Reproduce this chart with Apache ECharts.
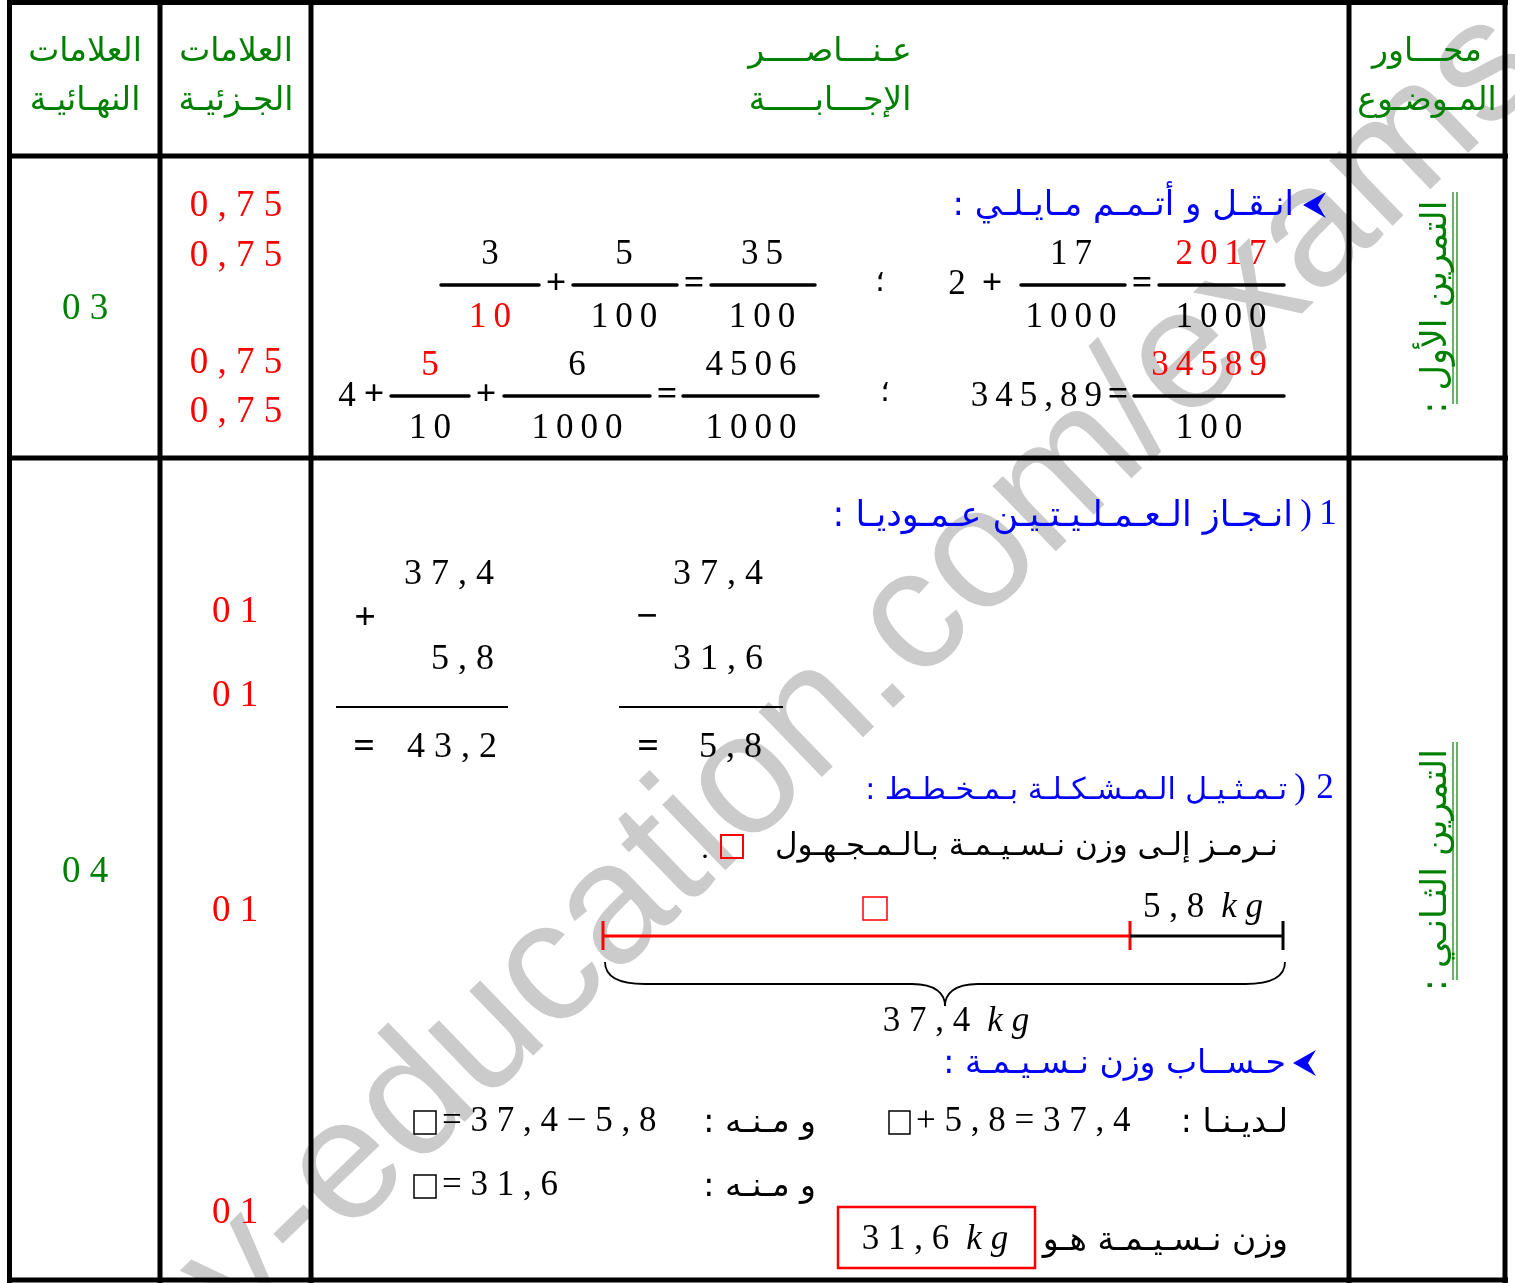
<!DOCTYPE html>
<html>
<head>
<meta charset="utf-8">
<title>سلم التنقيط</title>
<script src="https://cdn.jsdelivr.net/npm/echarts@6/dist/echarts.min.js"></script>
<style>
  html, body { margin: 0; padding: 0; background: #fff; }
  #main { width: 1515px; height: 1283px; }
</style>
</head>
<body>
<div id="main"></div>
<script>
var NUM = "'Liberation Serif', 'Times New Roman', serif";
var AR = "'DejaVu Sans', sans-serif";
var RLM = '\u200F';
var TH = '\u2009';
var GREEN = '#008000', RED = '#ff0000', BLUE = '#0000ff';

// محتوى الجدول
var headerTop = ['العلامات', 'العلامات', 'عـنـــاصــــر', 'محـــاور'];
var headerBottom = ['النهـائيـة', 'الجـزئيـة', 'الإجـــابـــــة', 'المـوضـوع'];
var finalMarks = ['0 3', '0 4'];
var partialMarks1 = ['0 , 7 5', '0 , 7 5', '0 , 7 5', '0 , 7 5'];
var partialMarks2 = ['0 1', '0 1', '0 1', '0 1'];
var exerciseNames = ['التمرين الأول :', 'التمرين الثـانـي :'];

// الكسور: [بسط, مقام, بسط بالأحمر, مقام بالأحمر]
var fractionsA = [['3', '10', 0, 1], ['5', '100', 0, 0], ['35', '100', 0, 0]];
var fractionsB = [['17', '1000', 0, 0], ['2017', '1000', 1, 0]];
var fractionsC = [['5', '10', 1, 0], ['6', '1000', 0, 0], ['4506', '1000', 0, 0]];
var fractionsD = [['34589', '100', 1, 0]];
var decimalD = '345,89';

// العمليات العمودية
var addition = ['3 7 , 4', '5 , 8', '4 3 , 2'];
var subtraction = ['3 7 , 4', '3 1 , 6', '5 , 8'];
var weights = ['5 , 8', '3 7 , 4', '3 1 , 6'];

var texts2 = {
    q1: 'انـقـل و أتـمـم مـايـلـي :',
    q21: 'انـجـاز الـعـمـلـيـتـيـن عـمـوديـا :',
    q22: 'تـمـثـيـل الـمـشـكـلـة بـمـخـطـط :',
    symbol: 'نـرمـز إلـى وزن نـسـيـمـة بـالـمـجـهـول',
    calc: 'حـســاب وزن نـسـيـمـة :',
    have: 'لـديـنـا :',
    so: 'و مـنـه :',
    answer: 'وزن نـسـيـمـة هـو'
};

var colX = [9.5, 160, 311, 1349, 1505];
var rowY = [2.5, 156, 458, 1280];

var els = [];

function spaced(s) { return s.split('').join(TH); }

function txt(x, y, s, o) {
    o = o || {};
    var font = (o.italic ? 'italic ' : '') + (o.bold ? 'bold ' : '') + (o.size || 34) + 'px ' + (o.family || NUM);
    els.push({
        type: 'text', x: x, y: y, rotation: o.rot || 0, z: o.z || 10,
        style: {
            text: s, fill: o.color || '#000', font: font,
            align: o.align || 'center', textAlign: o.align || 'center',
            verticalAlign: 'middle', textVerticalAlign: 'middle',
            rich: o.rich
        }
    });
}
function ar(x, y, s, o) {
    o = o || {};
    o.family = AR;
    o.size = o.size || 32;
    txt(x, y, s + RLM, o);
}
function line(x1, y1, x2, y2, color, w, cap) {
    els.push({
        type: 'line', z: 5,
        shape: { x1: x1, y1: y1, x2: x2, y2: y2 },
        style: { stroke: color || '#000', lineWidth: w || 2, lineCap: cap || 'butt' }
    });
}
function box(x, y, w, h, color, lw) {
    els.push({
        type: 'rect', z: 6,
        shape: { x: x, y: y, width: w, height: h },
        style: { fill: 'none', stroke: color || '#000', lineWidth: lw || 1.5 }
    });
}
function arrow(x, y) {
    els.push({
        type: 'polygon', z: 6,
        shape: { points: [[x, y], [x + 23, y - 13], [x + 15, y], [x + 23, y + 13]] },
        style: { fill: BLUE }
    });
}
function curve(x1, y1, c1x, c1y, c2x, c2y, x2, y2) {
    els.push({
        type: 'bezierCurve', z: 5,
        shape: { x1: x1, y1: y1, x2: x2, y2: y2, cpx1: c1x, cpy1: c1y, cpx2: c2x, cpy2: c2y },
        style: { stroke: '#000', lineWidth: 1.8, fill: 'none' }
    });
}
function frac(f, cx, bx1, bx2, by) {
    line(bx1, by, bx2, by, '#000', 3.5, 'round');
    txt(cx, by - 30, spaced(f[0]), { color: f[2] ? RED : '#000', size: 35 });
    txt(cx, by + 33, spaced(f[1]), { color: f[3] ? RED : '#000', size: 35 });
}

// العلامة المائية
els.push({
    type: 'text', x: 10, y: 1495, rotation: 44 * Math.PI / 180, z: 0,
    style: {
        text: 'ency-education.com/exams', fill: '#cbcbcb',
        font: "172px 'Liberation Sans', Arial, sans-serif",
        align: 'left', textAlign: 'left', verticalAlign: 'middle', textVerticalAlign: 'middle'
    }
});

// خطوط الجدول
colX.forEach(function (x) { line(x, 0, x, 1283, '#000', 5); });
rowY.forEach(function (y) { line(7, y, 1508, y, '#000', 5); });

// رأس الجدول
var headCx = [85, 236, 830, 1427];
headerTop.forEach(function (s, i) {
    ar(headCx[i], 52, s, { color: GREEN, size: 33 });
    ar(headCx[i], 101, headerBottom[i], { color: GREEN, size: 33 });
});

// العلامات
txt(85, 309, finalMarks[0], { color: GREEN, size: 37 });
txt(85, 872, finalMarks[1], { color: GREEN, size: 37 });
var pm1Y = [206, 256, 363, 412];
partialMarks1.forEach(function (s, i) { txt(236, pm1Y[i], s, { color: RED, size: 37 }); });
var pm2Y = [612, 696, 911, 1213];
partialMarks2.forEach(function (s, i) { txt(235, pm2Y[i], s, { color: RED, size: 37 }); });

// محاور الموضوع (نص عمودي)
ar(1437, 307, exerciseNames[0], { color: GREEN, rot: Math.PI / 2, size: 35 });
line(1453, 192, 1453, 404, GREEN, 1.2);
line(1457, 192, 1457, 404, GREEN, 1.2);
ar(1437, 870, exerciseNames[1], { color: GREEN, rot: Math.PI / 2, size: 35 });
line(1453, 742, 1453, 980, GREEN, 1.2);
line(1457, 742, 1457, 980, GREEN, 1.2);

// التمرين الأول
arrow(1303, 205);
ar(1294, 206, texts2.q1, { color: BLUE, align: 'right', size: 34 });

frac(fractionsA[0], 490, 441, 539, 285);
txt(556, 285, '+', { bold: true, size: 36 });
frac(fractionsA[1], 624, 573, 677, 285);
txt(694, 285, '=', { bold: true, size: 36 });
frac(fractionsA[2], 762, 711, 815, 285);
txt(880, 283, '؛', { family: AR, size: 30 });

txt(957, 285, '2', { size: 35 });
txt(992, 285, '+', { bold: true, size: 36 });
frac(fractionsB[0], 1071, 1021, 1125, 285);
txt(1142, 285, '=', { bold: true, size: 36 });
frac(fractionsB[1], 1221, 1159, 1284, 285);

txt(347, 397, '4', { size: 35 });
txt(374, 396, '+', { bold: true, size: 36 });
frac(fractionsC[0], 430, 391, 469, 396);
txt(486, 396, '+', { bold: true, size: 36 });
frac(fractionsC[1], 577, 504, 650, 396);
txt(667, 396, '=', { bold: true, size: 36 });
frac(fractionsC[2], 751, 683, 818, 396);
txt(885, 393, '؛', { family: AR, size: 30 });

txt(1102, 397, spaced(decimalD), { align: 'right', size: 35 });
txt(1118, 396, '=', { bold: true, size: 36 });
frac(fractionsD[0], 1209, 1134, 1284, 396);

// التمرين الثاني - 1
txt(1328, 515, '1', { color: BLUE, size: 35 });
txt(1306, 515, ')', { color: BLUE, size: 35 });
ar(1293, 517, texts2.q21, { color: BLUE, align: 'right', size: 35 });

txt(494, 575, addition[0], { align: 'right', size: 36 });
txt(365, 619, '+', { size: 38, bold: true });
txt(494, 660, addition[1], { align: 'right', size: 36 });
line(336, 707, 508, 707, '#000', 2);
txt(364, 748, '=', { size: 38, bold: true });
txt(497, 748, addition[2], { align: 'right', size: 36 });

txt(763, 575, subtraction[0], { align: 'right', size: 36 });
txt(647, 618, '−', { size: 38, bold: true });
txt(763, 660, subtraction[1], { align: 'right', size: 36 });
line(619, 707, 783, 707, '#000', 2);
txt(648, 748, '=', { size: 38, bold: true });
txt(762, 748, subtraction[2], { align: 'right', size: 36 });

// التمرين الثاني - 2
txt(1325, 789, '2', { color: BLUE, size: 35 });
txt(1300, 789, ')', { color: BLUE, size: 35 });
ar(1287, 791, texts2.q22, { color: BLUE, align: 'right', size: 30 });
ar(1278, 847, texts2.symbol, { align: 'right', size: 31 });
box(721, 835, 22, 23, RED, 2);
txt(705, 850, '.', { size: 30 });

// المخطط
line(603, 936, 1130, 936, RED, 3);
line(603, 921, 603, 950, RED, 3);
line(1130, 921, 1130, 950, RED, 3);
line(1130, 936, 1283, 936, '#000', 3);
line(1283, 921, 1283, 950, '#000', 3);
box(863, 897, 24, 23, RED, 1.5);
var kgRich = {
    n: { fontFamily: NUM, fontSize: 35, fill: '#000' },
    u: { fontFamily: NUM, fontSize: 35, fontStyle: 'italic', fill: '#000' }
};
txt(1143, 908, '{n|' + weights[0] + '}  {u|k g}', { align: 'left', rich: kgRich });
curve(605, 962, 605, 978, 620, 984, 645, 984);
line(645, 984, 912, 984, '#000', 1.8);
curve(912, 984, 936, 984, 945, 994, 945, 1006);
curve(945, 1006, 945, 994, 954, 984, 978, 984);
line(978, 984, 1245, 984, '#000', 1.8);
curve(1245, 984, 1270, 984, 1285, 978, 1285, 962);
txt(956, 1022, '{n|' + weights[1] + '}  {u|k g}', { rich: kgRich });

// حساب وزن نسيمة
arrow(1293, 1063);
ar(1286, 1064, texts2.calc, { color: BLUE, align: 'right', size: 33 });

ar(1288, 1123, texts2.have, { align: 'right', size: 33 });
box(889, 1111, 21, 23, '#000', 1.5);
txt(916, 1122, '+ 5 , 8 = 3 7 , 4', { align: 'left', size: 35 });
ar(816, 1123, texts2.so, { align: 'right', size: 33 });
box(414, 1111, 22, 23, '#000', 1.5);
txt(442, 1122, '= 3 7 , 4 − 5 , 8', { align: 'left', size: 35 });

ar(816, 1187, texts2.so, { align: 'right', size: 33 });
box(414, 1175, 22, 23, '#000', 1.5);
txt(442, 1186, '= 3 1 , 6', { align: 'left', size: 35 });

ar(1288, 1241, texts2.answer, { align: 'right', size: 33 });
box(838, 1207, 197, 61, RED, 2.5);
txt(935, 1240, '{n|' + weights[2] + '}  {u|k g}', { rich: kgRich });

var chart = echarts.init(document.getElementById('main'), null, { renderer: 'canvas' });
chart.setOption({
    animation: false,
    graphic: { elements: els }
});
</script>
</body>
</html>
